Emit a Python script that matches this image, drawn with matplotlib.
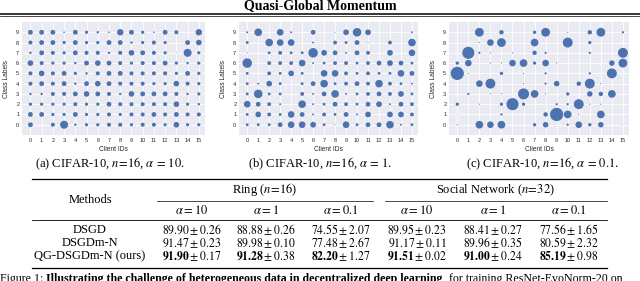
import numpy as np
import matplotlib
matplotlib.use('Agg')
import matplotlib.pyplot as plt
from matplotlib.lines import Line2D

plt.rcParams['font.family'] = ['Liberation Serif', 'DejaVu Sans']
plt.rcParams['mathtext.fontset'] = 'stix'

W, H = 640, 281

client_ids = list(range(16))
class_labels = [9, 8, 7, 6, 5, 4, 3, 2, 1, 0]   # rows below, top to bottom

# estimated dot diameters (relative units)
dots_a = [
    [3, 3, 3, 1, 3, 2, 1.5, 1, 4, 3, 2, 1, 3, 2.5, 0, 4],
    [2.5, 3, 3, 2, 3, 2, 2, 3, 3, 1.5, 2, 2.5, 2, 0, 3, 3.5],
    [1.5, 3, 2.5, 2, 3, 2.5, 2.5, 1.5, 2.5, 3.5, 3, 2.5, 2, 0.5, 5, 2],
    [3.5, 2.5, 2, 2, 1.5, 3, 3.5, 3, 2.5, 2, 2.5, 2.5, 3, 2, 1.5, 2],
    [2.5, 3.5, 2.5, 3, 2, 1.5, 2.5, 3, 3, 2.5, 2.5, 2.5, 2.5, 2, 3, 2],
    [2.5, 3, 2.5, 3, 1.5, 3, 3.5, 3, 2.5, 2.5, 2.5, 2, 2, 3.5, 2.5, 2],
    [1.5, 1.5, 2.5, 2.5, 3, 3.5, 3, 2.5, 1.5, 3.5, 3, 3, 3, 2.5, 1.5, 2],
    [2, 2, 2, 2, 2.5, 2, 2, 3, 2.5, 2.5, 2.5, 2.5, 2.5, 3.5, 2, 1.5],
    [3, 3, 2, 2, 3, 2, 2, 2.5, 2, 2.5, 2.5, 3, 2.5, 3, 2.5, 2.5],
    [3, 0, 2.5, 5, 1.5, 2, 2, 2.5, 2.5, 2, 2.5, 2.5, 2, 3.5, 2, 2],
]
dots_b = [
    [1, 4, 0, 3.5, 1, 0, 2.5, 0, 0.5, 3, 4.5, 3, 0, 0, 0, 1],
    [1.5, 0, 4, 3.5, 3.5, 0, 1, 0, 2, 1.5, 2.5, 0.5, 0, 2, 0, 4],
    [0.5, 0, 1.5, 2, 1.5, 1.5, 5, 3, 2.5, 1, 2.5, 2, 0, 3, 0, 3.5],
    [5, 0, 2, 2, 2, 3.5, 1, 1.5, 2, 2, 1.5, 2, 2.5, 3, 2.5, 1.5],
    [1.5, 0, 2, 1.5, 3, 1.5, 0, 3.5, 3.5, 2, 1.5, 2, 1.5, 1.5, 3.5, 2.5],
    [1.5, 1, 3, 1.5, 0, 1.5, 2.5, 4, 1.5, 2, 2.5, 2, 4, 2, 1.5, 1],
    [1.5, 4.5, 1.5, 1.5, 0, 2, 1, 2.5, 4, 1, 1.5, 2, 2.5, 2, 3, 1.5],
    [3.5, 2.5, 2, 1, 0, 4, 1, 1.5, 2.5, 2, 1.5, 2.5, 3, 1, 2.5, 2],
    [1.5, 3, 2, 1.5, 3.5, 2.5, 1, 2, 1.5, 2.5, 1, 3, 0, 3, 3, 2],
    [1.5, 1.5, 1.5, 2.5, 3.5, 3.5, 3, 1.5, 0.5, 3.5, 1.5, 2.5, 2.5, 4, 1, 1.5],
]
dots_c = [
    [0, 0, 4, 0, 2, 0, 0, 1.5, 4, 0, 0.5, 0, 2, 4, 0, 1],
    [0, 0, 0.5, 3, 4, 0, 0, 3.5, 0, 0, 4.5, 0, 1.5, 0, 0, 0],
    [0, 5.5, 1, 0.5, 0, 0.5, 0, 2, 1, 0, 0, 0, 1, 0, 0, 4.5],
    [1.5, 3, 0, 0.5, 0.5, 3, 3.5, 1.5, 3, 0.5, 0, 0, 0, 0, 2.5, 4],
    [6, 0.5, 0, 0, 1.5, 0, 0.5, 0, 1, 0, 0, 0, 1, 0, 4.5, 0],
    [0, 0, 3, 4.5, 0, 0, 0.5, 0, 1, 2.5, 0, 2, 4.5, 0.5, 0, 0],
    [0, 1, 0, 0.5, 0.5, 0, 5, 3.5, 0.5, 0, 1.5, 0, 2.5, 2, 3.5, 0],
    [1.5, 0, 0.5, 0, 1.5, 5.5, 1.5, 0, 0, 1, 1, 4.5, 0.5, 0.5, 0, 0],
    [0.3, 0, 0, 0, 1, 0, 0, 0, 2, 6, 3.5, 0.5, 0, 3.5, 0, 0],
    [0.5, 0, 3.5, 3, 3.5, 0, 0, 1.5, 2.5, 0, 1, 3, 1.5, 2.5, 0, 0.3],
]

captions = [r'(a) CIFAR-10, $n\!=\!16$, $\alpha\,=\,10$.',
            r'(b) CIFAR-10, $n\!=\!16$, $\alpha\,=\,1$.',
            r'(c) CIFAR-10, $n\!=\!16$, $\alpha\,=\,0.1$.']

methods = ['DSGD', 'DSGDm-N', 'QG-DSGDm-N (ours)']
alphas = ['10', '1', '0.1', '10', '1', '0.1']
acc_mean = [[89.90, 88.88, 74.55, 89.95, 88.41, 77.56],
            [91.47, 89.98, 77.48, 91.17, 89.96, 80.59],
            [91.90, 91.28, 82.20, 91.51, 91.00, 85.19]]
acc_std = [[0.26, 0.26, 2.07, 0.23, 0.27, 1.65],
           [0.23, 0.10, 2.67, 0.11, 0.35, 2.32],
           [0.17, 0.38, 1.27, 0.02, 0.24, 0.98]]


def fx(px):
    return px / W


def fy(py):
    return 1 - py / H


def hline(x0, x1, y, lw):
    fig.add_artist(Line2D([fx(x0), fx(x1)], [fy(y), fy(y)], color='k', lw=lw,
                          transform=fig.transFigure))


fig = plt.figure(figsize=(W / 100, H / 100), dpi=100)

# title + double rule
fig.text(fx(320), fy(5.8), 'Quasi-Global Momentum', ha='center', va='center',
         fontsize=10, fontweight='bold')
hline(0, W, 13.5, 1.1)
hline(0, W, 16, 0.5)

panels = [(22, 183, dots_a, 1.6, 110), (239, 179, dots_b, 1.9, 320), (449, 180, dots_c, 2.2, 542)]
blue = '#4C72B0'
for i, (left, width, dots, k, capx) in enumerate(panels):
    ax = fig.add_axes([fx(left), fy(135), width / W, 113 / H])
    ax.set_facecolor('#EAEAF2')
    for s in ax.spines.values():
        s.set_visible(False)
    ax.grid(True, color='white', lw=0.6)
    ax.set_axisbelow(True)
    d = np.array(dots, dtype=float)
    xx, yy = np.meshgrid(client_ids, class_labels)
    m = d > 0
    ax.scatter(xx[m], yy[m], s=(0.72 * k * d[m]) ** 2, color=blue, linewidths=0, zorder=3)
    ax.set_xlim(-0.75, 15.55)
    ax.set_ylim(-1, 10)
    ax.set_xticks(client_ids)
    ax.set_yticks(range(10))
    ax.tick_params(length=0, pad=2, labelsize=4, labelcolor='#262626',
                   labelfontfamily='Liberation Sans')
    ax.set_xlabel('Client IDs', fontsize=4.8, family='Liberation Sans', color='#262626', labelpad=2)
    ax.set_ylabel('Class Labels', fontsize=4.8, family='Liberation Sans', color='#262626', labelpad=4)
    fig.text(fx(capx), fy(164), captions[i], ha='center', va='center', fontsize=9)

# table
tl, tr = 32, 607
hline(tl, tr, 179, 0.9)
hline(157, 373, 201, 0.5)
hline(385, tr, 201, 0.5)
hline(tl, tr, 220, 0.6)
hline(tl, tr, 267.5, 0.9)

col_x = [192, 266, 341, 417, 493, 569]
fig.text(fx(90), fy(200), 'Methods', ha='center', va='center', fontsize=9)
fig.text(fx(265), fy(190), r'Ring ($n\!=\!16$)', ha='center', va='center', fontsize=9)
fig.text(fx(495), fy(190), r'Social Network ($n\!=\!32$)', ha='center', va='center', fontsize=9)
for cx, a in zip(col_x, alphas):
    fig.text(fx(cx), fy(210), r'$\alpha=' + a + '$', ha='center', va='center', fontsize=9)

row_y = [230, 243, 256]
for r, name in enumerate(methods):
    fig.text(fx(90), fy(row_y[r]), name, ha='center', va='center', fontsize=9)
    for c, cx in enumerate(col_x):
        mu = '%.2f' % acc_mean[r][c]
        if r == len(methods) - 1:
            mu = r'\mathbf{' + mu + '}'
        s = r'$' + mu + r'\pm' + '%.2f' % acc_std[r][c] + '$'
        fig.text(fx(cx), fy(row_y[r]), s, ha='center', va='center', fontsize=8.4)

# figure caption, cut off at the bottom edge like the source page
pieces = [('Figure 1: ', 'normal'),
          ('Illustrating the challenge of heterogeneous data in decentralized deep learning', 'bold'),
          (', for training ResNet-EvoNorm-20 on', 'normal')]
renderer = fig.canvas.get_renderer()
x = 0.0
for txt, wt in pieces:
    t = fig.text(x, fy(282), txt, ha='left', va='baseline', fontsize=8.6, fontweight=wt)
    bb = t.get_window_extent(renderer)
    x += bb.width / W

fig.savefig('out.png', dpi=100)
